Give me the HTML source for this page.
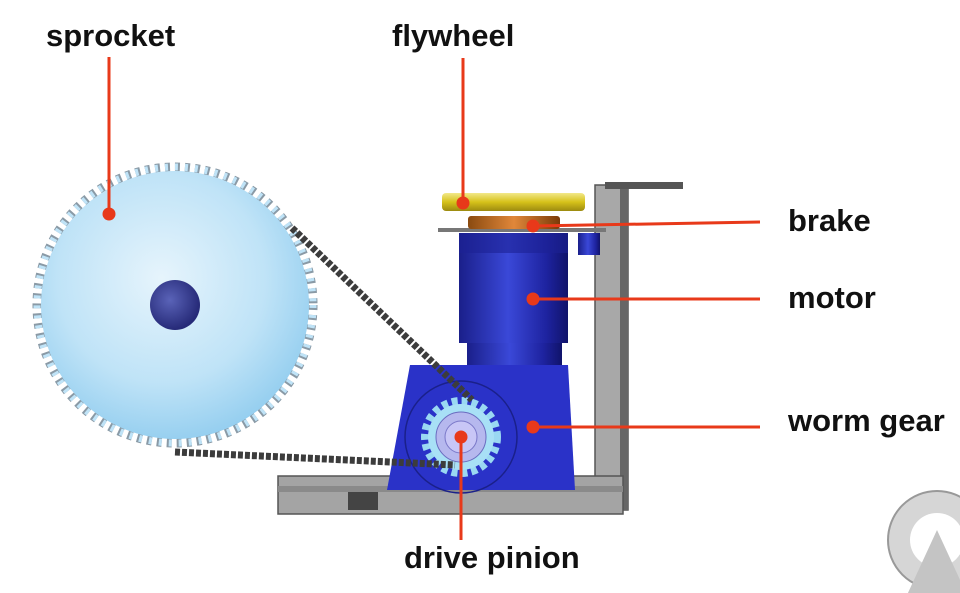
<!DOCTYPE html>
<html><head><meta charset="utf-8"><style>
html,body{margin:0;padding:0;background:#fff;width:960px;height:593px;overflow:hidden}
svg{display:block}
text{font-family:"Liberation Sans",Arial,sans-serif;font-weight:bold;fill:#111}
</style></head><body>
<svg width="960" height="593" viewBox="0 0 960 593" xmlns="http://www.w3.org/2000/svg">
<defs>
<radialGradient id="sp" cx="0.45" cy="0.4" r="0.65"><stop offset="0" stop-color="#e6f4fc"/><stop offset="0.6" stop-color="#bfe3f7"/><stop offset="1" stop-color="#8ecbee"/></radialGradient>
<radialGradient id="hub" cx="0.4" cy="0.4" r="0.6"><stop offset="0" stop-color="#5a63b8"/><stop offset="1" stop-color="#262a78"/></radialGradient>
<linearGradient id="mot" x1="0" x2="1"><stop offset="0" stop-color="#1a1f8a"/><stop offset="0.45" stop-color="#3a48d8"/><stop offset="0.8" stop-color="#1e23a0"/><stop offset="1" stop-color="#10136a"/></linearGradient>
<linearGradient id="fly" x1="0" y1="0" x2="0" y2="1"><stop offset="0" stop-color="#f2e88a"/><stop offset="0.5" stop-color="#d6c21a"/><stop offset="1" stop-color="#9c8a10"/></linearGradient>
<linearGradient id="brk" x1="0" x2="1"><stop offset="0" stop-color="#8a4a10"/><stop offset="0.5" stop-color="#e0873a"/><stop offset="1" stop-color="#7a3a08"/></linearGradient>
</defs>
<circle cx="175" cy="305" r="138" fill="none" stroke="#8a9aa6" stroke-width="9" stroke-dasharray="5 5"/>
<circle cx="175" cy="305" r="138" fill="none" stroke="#bfe3f7" stroke-width="7" stroke-dasharray="3 7"/>
<circle cx="175" cy="305" r="134" fill="url(#sp)"/>
<circle cx="175" cy="305" r="25" fill="url(#hub)"/>
<rect x="595" y="185" width="33" height="325" fill="#a8a8a8" stroke="#555" stroke-width="1.5"/>
<rect x="620" y="185" width="8" height="325" fill="#666"/>
<rect x="605" y="182" width="78" height="7" fill="#555"/>
<rect x="278" y="476" width="345" height="38" fill="#a4a4a4" stroke="#555" stroke-width="1.5"/>
<rect x="278" y="486" width="345" height="6" fill="#8a8a8a"/>
<rect x="348" y="492" width="30" height="18" fill="#444"/>
<rect x="467" y="340" width="95" height="28" fill="url(#mot)"/>
<rect x="459" y="233" width="109" height="110" fill="url(#mot)"/>
<rect x="459" y="233" width="109" height="20" fill="#1c2295" opacity="0.6"/>
<rect x="578" y="233" width="22" height="22" fill="url(#mot)"/>
<rect x="438" y="228" width="168" height="4" fill="#777"/>
<rect x="468" y="216" width="92" height="13" rx="3" fill="url(#brk)"/>
<rect x="442" y="193" width="143" height="18" rx="4" fill="url(#fly)"/>
<polygon points="410,365 568,365 575,490 387,490" fill="#2a32c8"/>
<circle cx="461" cy="437" r="56" fill="none" stroke="#1a208a" stroke-width="1.5"/>
<circle cx="461" cy="437" r="36" fill="none" stroke="#9ad8f2" stroke-width="8" stroke-dasharray="6 4"/>
<circle cx="461" cy="437" r="33" fill="#a8e0f6"/>
<circle cx="461" cy="437" r="25" fill="#b6b8ee" stroke="#6a6cc0"/>
<circle cx="461" cy="437" r="16" fill="#c8c6f6" stroke="#7a78c8"/>
<line x1="292" y1="228" x2="472" y2="400" stroke="#3c3c3c" stroke-width="7" stroke-dasharray="5 2"/>
<line x1="175" y1="452" x2="455" y2="465" stroke="#3c3c3c" stroke-width="7" stroke-dasharray="5 2"/>
<circle cx="937" cy="540" r="49" fill="#d6d6d6" stroke="#999" stroke-width="2"/>
<circle cx="937" cy="540" r="27" fill="#fff"/>
<polygon points="937,530 907,595 967,595" fill="#c4c4c4"/>
<g stroke="#e8391a" stroke-width="3" fill="#e8391a">
<line x1="109" y1="57" x2="109" y2="214"/><circle cx="109" cy="214" r="5"/>
<line x1="463" y1="58" x2="463" y2="203"/><circle cx="463" cy="203" r="5"/>
<line x1="533" y1="226" x2="760" y2="222"/><circle cx="533" cy="226" r="5"/>
<line x1="533" y1="299" x2="760" y2="299"/><circle cx="533" cy="299" r="5"/>
<line x1="533" y1="427" x2="760" y2="427"/><circle cx="533" cy="427" r="5"/>
<line x1="461" y1="437" x2="461" y2="540"/><circle cx="461" cy="437" r="5"/>
</g>
<text x="46" y="46" font-size="31">sprocket</text>
<text x="392" y="46" font-size="31">flywheel</text>
<text x="788" y="231" font-size="31">brake</text>
<text x="788" y="308" font-size="31">motor</text>
<text x="788" y="431" font-size="31">worm gear</text>
<text x="404" y="568" font-size="31">drive pinion</text>
</svg>
</body></html>
